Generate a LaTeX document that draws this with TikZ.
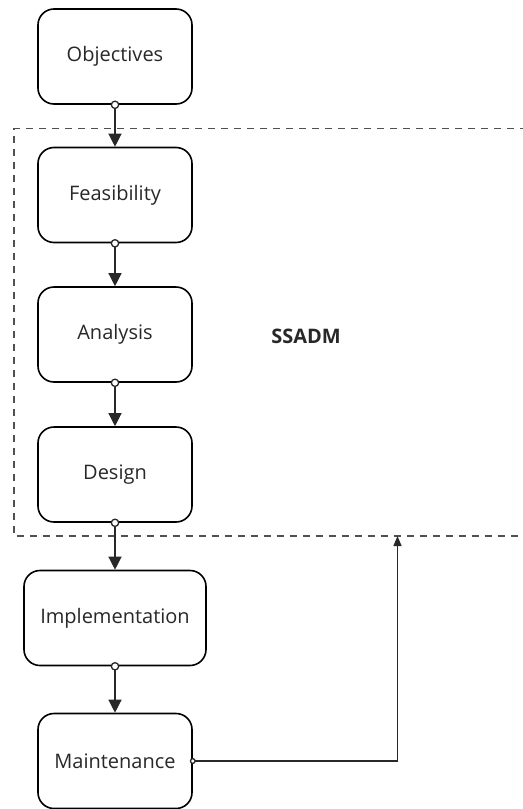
\documentclass[tikz,border=0pt]{standalone}
\usepackage{fontspec}
\setmainfont{Open Sans}
\usetikzlibrary{arrows.meta,positioning}
\definecolor{ink}{RGB}{40,40,40}
\definecolor{dashgrey}{RGB}{80,80,80}

\begin{document}
\begin{tikzpicture}[
    x=0.5pt, y=-0.5pt,
    stagebox/.style={rectangle, draw=black, line width=0.8pt, rounded corners=8pt, minimum width=77pt, minimum height=47.5pt, font=\fontsize{10}{12}\selectfont\color{ink}},
    flow/.style={draw=ink, line width=0.65pt, {Circle[length=4.3pt, width=4.3pt, fill=white]}-{Triangle[width=6.5pt, length=6.5pt]}, shorten <=-2.15pt},
    frame/.style={draw=dashgrey, line width=0.6pt, dash pattern=on 3.5pt off 3pt}
]
    \useasboundingbox (0,0) rectangle (523,809);

    % SSADM region (runs off to the right)
    \draw[frame] (540,128.5) -- (14,128.5) -- (14,536) -- (540,536);
    \node[font=\fontsize{10}{12}\selectfont\bfseries\color{ink}] (ssadm) at (306,336) {SSADM};
    \coordinate (back) at (397.5,536);

    % Stages
    \node[stagebox] (obj) at (115,56.5) {Objectives};
    \node[stagebox] (feas) at (115,195) {Feasibility};
    \node[stagebox] (anal) at (115,334.5) {Analysis};
    \node[stagebox] (des) at (115,474.5) {Design};
    \node[stagebox, minimum width=91pt] (impl) at (115,618) {Implementation};
    \node[stagebox] (maint) at (115,761) {Maintenance};

    % Flow between stages
    \draw[flow] (obj.south) -- (feas.north);
    \draw[flow] (feas.south) -- (anal.north);
    \draw[flow] (anal.south) -- (des.north);
    \draw[flow] (des.south) -- (impl.north);
    \draw[flow] (impl.south) -- (maint.north);

    % Feedback into SSADM
    \draw[flow, {Circle[length=3pt, width=3pt, fill=white]}-{Triangle[width=4pt, length=5pt]}, shorten <=-1.5pt] (maint.east) -| (back);
\end{tikzpicture}
\end{document}
